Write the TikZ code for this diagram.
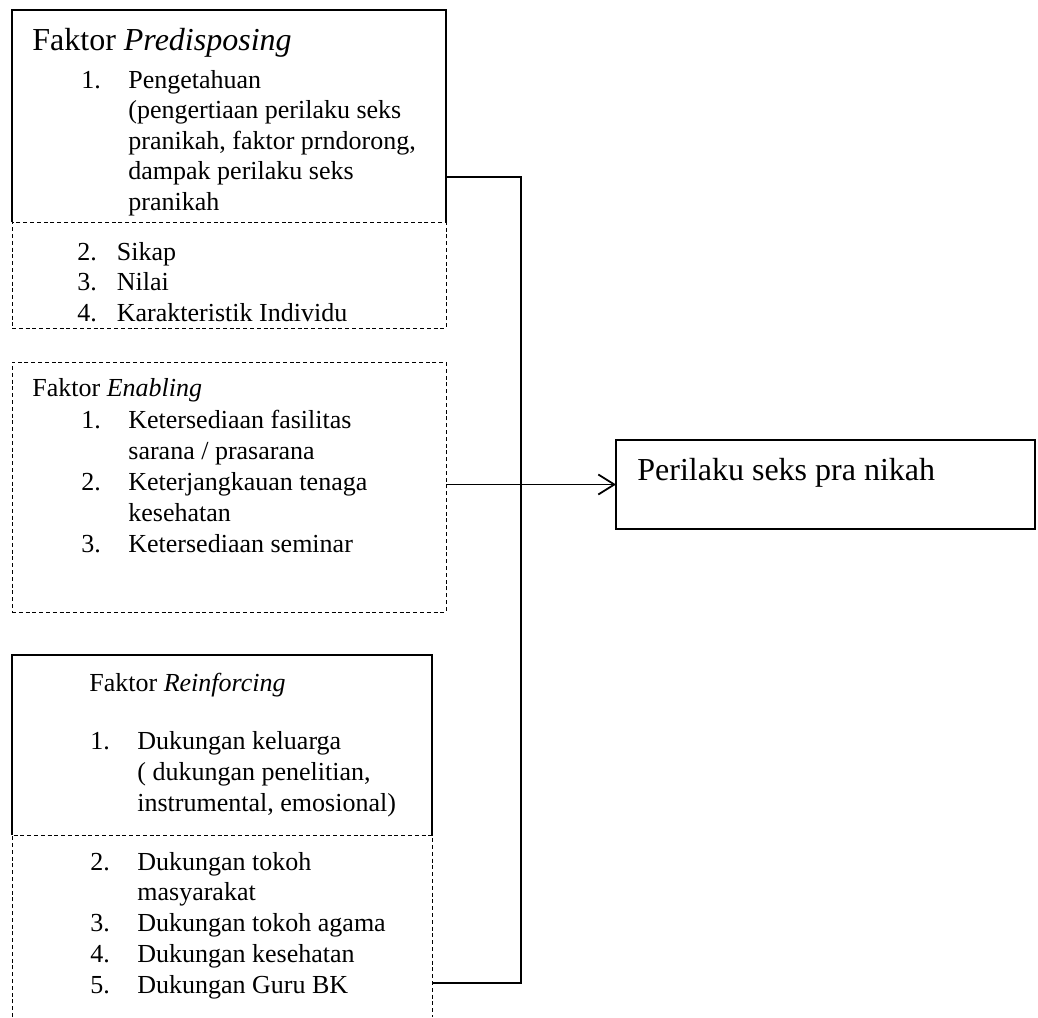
\documentclass[tikz,border=0pt]{standalone}
\usepackage{fontspec}
\setmainfont{Liberation Serif}
\usetikzlibrary{arrows.meta}
\tikzstyle{area} = [rectangle, inner sep=0pt, outer sep=0pt, anchor=north west]
\tikzstyle{solidline} = [draw=black, line width=0.8pt]
\tikzstyle{dashline} = [draw=black, line width=0.5pt, dash pattern=on 2pt off 1.4pt]
\tikzstyle{txt} = [inner sep=0pt, anchor=base west, align=left, font=\fontsize{13}{15.3}\selectfont]
\tikzstyle{line} = [draw, line width=0.9pt]

\begin{document}
\begin{tikzpicture}[x=0.5pt, y=-0.5pt]
		\useasboundingbox (0,0) rectangle (1038,1017);

		\node [area, minimum width=217pt, minimum height=106pt] (pred) at (12,10) {};
		\node [area, dashline, minimum width=217pt, minimum height=53pt] (predx) at (12,222) {};
		\node [area, dashline, minimum width=217pt, minimum height=125pt] (enab) at (12,362) {};
		\node [area, minimum width=210pt, minimum height=90pt] (reinf) at (12,655) {};
		\node [area, minimum width=210pt, minimum height=91pt] (reinfx) at (12,835) {};
		\node [area, solidline, minimum width=209.5pt, minimum height=44.5pt] (outbox) at (616,440) {};

		\draw [solidline] (pred.south west) -- (pred.north west) -- (pred.north east) -- (pred.south east);
		\draw [solidline, line width=0.7pt] (reinf.south west) -- (reinf.north west) -- (reinf.north east) -- (reinf.south east);
		\draw [dashline] (reinfx.south west) -- (reinfx.north west) -- (reinfx.north east) -- (reinfx.south east);

		\node [txt, font=\fontsize{16}{19}\selectfont] (predhead) at (32,50) {Faktor \textit{Predisposing}};
		\node [txt] (predone) at (81,88) {\begin{tabular}[t]{@{}p{23.5pt}@{}l@{}}
			1. & Pengetahuan\\
			& (pengertiaan perilaku seks\\
			& pranikah, faktor prndorong,\\
			& dampak perilaku seks\\
			& pranikah
		\end{tabular}};
		\node [txt] (predrest) at (77,260) {\begin{tabular}[t]{@{}p{19.75pt}@{}l@{}}
			2. & Sikap\\
			3. & Nilai\\
			4. & Karakteristik Individu
		\end{tabular}};

		\node [txt] (enabhead) at (32,396) {Faktor \textit{Enabling}};
		\node [txt, font=\fontsize{13}{15.5}\selectfont] (enablist) at (81,428) {\begin{tabular}[t]{@{}p{23.5pt}@{}l@{}}
			1. & Ketersediaan fasilitas\\
			& sarana / prasarana\\
			2. & Keterjangkauan tenaga\\
			& kesehatan\\
			3. & Ketersediaan seminar
		\end{tabular}};

		\node [txt] (reinfhead) at (89,691) {Faktor \textit{Reinforcing}};
		\node [txt, font=\fontsize{13}{15.5}\selectfont] (reinfone) at (90,749) {\begin{tabular}[t]{@{}p{23.5pt}@{}l@{}}
			1. & Dukungan keluarga\\
			& ( dukungan penelitian,\\
			& instrumental, emosional)
		\end{tabular}};
		\node [txt, font=\fontsize{13}{15.4}\selectfont] (reinfrest) at (90,870) {\begin{tabular}[t]{@{}p{23.5pt}@{}l@{}}
			2. & Dukungan tokoh\\
			& masyarakat\\
			3. & Dukungan tokoh agama\\
			4. & Dukungan kesehatan\\
			5. & Dukungan Guru BK
		\end{tabular}};

		\node [txt, font=\fontsize{16}{19}\selectfont] (outtext) at (637,480) {Perilaku seks pra nikah};

		\coordinate (bustop) at (521,177);
		\coordinate (busbot) at (521,983);
		\path [line] (pred.east |- bustop) -- (bustop) -- (busbot) -- (reinfx.east |- busbot);
		\path [line, -{Straight Barb[length=8pt, width=10pt, line width=0.9pt]}] (enab.east |- outbox.west) -- (outbox.west);
	\end{tikzpicture}
\end{document}
